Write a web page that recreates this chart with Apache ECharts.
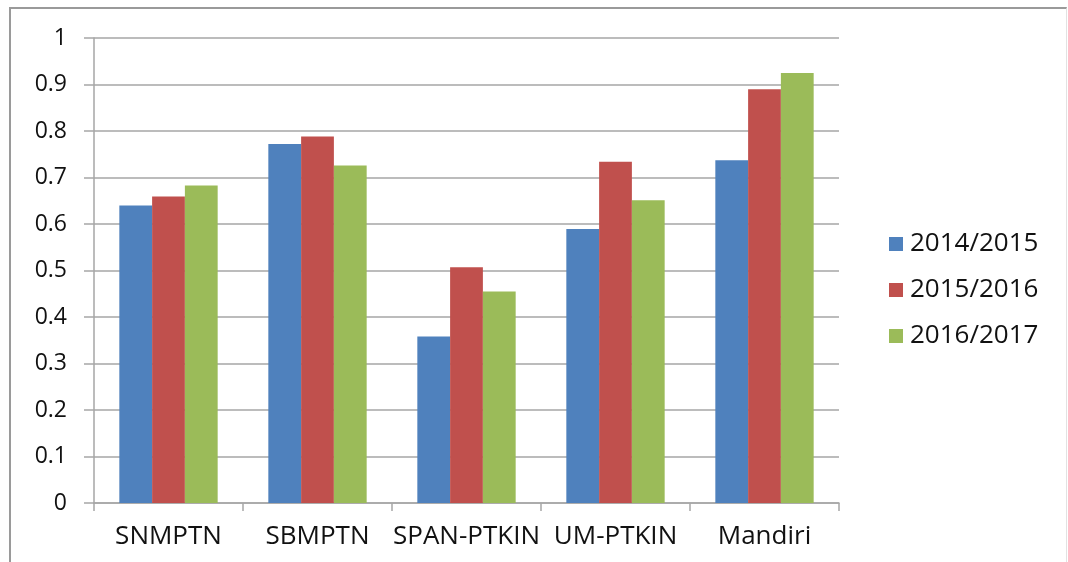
<!DOCTYPE html>
<html>
<head>
<meta charset="utf-8">
<script src="https://cdn.jsdelivr.net/npm/echarts@6/dist/echarts.min.js"></script>
<style>
  html, body { margin: 0; padding: 0; background: #fff; }
  #content { position: absolute; left: 0; top: 0; width: 1068px; height: 562px; }
  #frame {
    position: absolute; left: 9px; top: 7px; width: 1055px; height: 570px;
    border-top: 2px solid #9a9a9a; border-left: 2px solid #9a9a9a; border-right: 1px solid #e2e2e2;
    pointer-events: none;
  }
</style>
</head>
<body>
<div id="content"></div>
<div id="frame"></div>
<script>
// kategori jalur masuk
var categories = ['SNMPTN', 'SBMPTN', 'SPAN-PTKIN', 'UM-PTKIN', 'Mandiri'];
// nilai per tahun akademik
var y2014 = [0.640, 0.772, 0.358, 0.589, 0.737];
var y2015 = [0.659, 0.788, 0.507, 0.734, 0.890];
var y2016 = [0.683, 0.726, 0.455, 0.651, 0.925];
var yTicks = [0, 0.1, 0.2, 0.3, 0.4, 0.5, 0.6, 0.7, 0.8, 0.9, 1];

var myChart = echarts.init(document.getElementById('content'));

var font = '"Open Sans", "Liberation Sans", sans-serif';
var lineColor = '#a6a6a6';

myChart.setOption({
    animation: false,
    color: ['#4f81bd', '#c0504d', '#9bbb59'],
    grid: { left: 94, right: 229, top: 38, bottom: 59 },
    legend: {
        orient: 'vertical',
        left: 884,
        top: 226,
        itemWidth: 14,
        itemHeight: 14,
        itemGap: 20,
        icon: 'rect',
        textStyle: { fontFamily: font, fontSize: 26, color: '#111', padding: [0, 0, 0, 2] }
    },
    xAxis: {
        type: 'category',
        data: categories,
        axisLine: { lineStyle: { color: lineColor, width: 1.5 } },
        axisTick: { show: true, length: 8, alignWithLabel: false, lineStyle: { color: lineColor, width: 1.5 } },
        axisLabel: { fontFamily: font, fontSize: 26, color: '#111', margin: 21, interval: 0 }
    },
    yAxis: {
        type: 'value',
        min: yTicks[0],
        max: yTicks[yTicks.length - 1],
        interval: 0.1,
        axisLine: { show: true, lineStyle: { color: lineColor, width: 1.5 } },
        axisTick: { show: true, length: 10, lineStyle: { color: lineColor, width: 1.5 } },
        axisLabel: { fontFamily: font, fontSize: 23, color: '#111', margin: 27 },
        splitLine: { lineStyle: { color: lineColor, width: 1.5 } }
    },
    series: [
        { name: '2014/2015', type: 'bar', data: y2014, barGap: '0%', barCategoryGap: '34%' },
        { name: '2015/2016', type: 'bar', data: y2015, barGap: '0%', barCategoryGap: '34%' },
        { name: '2016/2017', type: 'bar', data: y2016, barGap: '0%', barCategoryGap: '34%' }
    ]
});
</script>
</body>
</html>
